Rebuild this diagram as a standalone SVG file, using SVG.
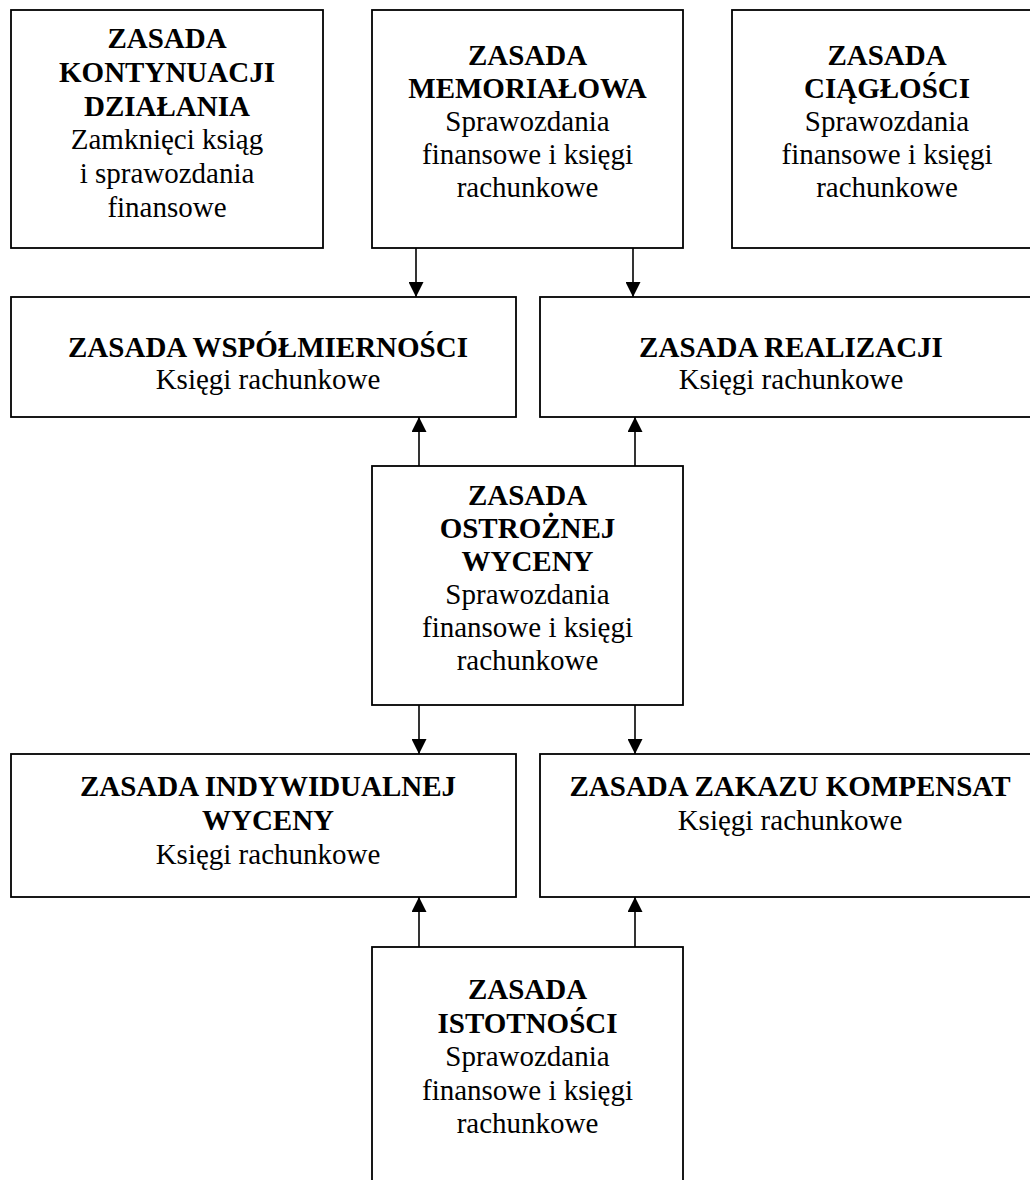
<svg xmlns="http://www.w3.org/2000/svg" width="1030" height="1180" viewBox="0 0 1030 1180">
<style>
.box{fill:#fff;stroke:#000;stroke-width:1.8}
.b{font-family:"Liberation Serif","Times New Roman",serif;font-size:29px;font-weight:bold;text-anchor:middle;fill:#000}
.r{font-family:"Liberation Serif","Times New Roman",serif;font-size:29px;text-anchor:middle;fill:#000}
.c{stroke:#000;stroke-width:1.6;fill:none}
</style>
<defs>
<marker id="ah" markerUnits="userSpaceOnUse" markerWidth="15" markerHeight="15" viewBox="0 0 15 15" refX="15" refY="7.5" orient="auto">
<path d="M0,0 L15,7.5 L0,15 z" fill="#000"/>
</marker>
</defs>
<rect width="1030" height="1180" fill="#fff"/>
<g id="kontynuacja">
<rect class="box" x="11" y="10" width="312" height="238"/>
<text class="b" x="167" y="48">ZASADA</text>
<text class="b" x="167" y="82">KONTYNUACJI</text>
<text class="b" x="167" y="116">DZIAŁANIA</text>
<text class="r" x="167" y="149">Zamknięci ksiąg</text>
<text class="r" x="167" y="183">i sprawozdania</text>
<text class="r" x="167" y="217">finansowe</text>
</g>
<g id="memorialowa">
<rect class="box" x="372" y="10" width="311" height="238"/>
<text class="b" x="527.5" y="65">ZASADA</text>
<text class="b" x="527.5" y="98">MEMORIAŁOWA</text>
<text class="r" x="527.5" y="131">Sprawozdania</text>
<text class="r" x="527.5" y="164">finansowe i księgi</text>
<text class="r" x="527.5" y="197">rachunkowe</text>
</g>
<g id="ciaglosc">
<rect class="box" x="732" y="10" width="310" height="238"/>
<text class="b" x="887" y="65">ZASADA</text>
<text class="b" x="887" y="98">CIĄGŁOŚCI</text>
<text class="r" x="887" y="131">Sprawozdania</text>
<text class="r" x="887" y="164">finansowe i księgi</text>
<text class="r" x="887" y="197">rachunkowe</text>
</g>
<g id="wspolmiernosc">
<rect class="box" x="11" y="297" width="505" height="120"/>
<text class="b" x="268" y="357">ZASADA WSPÓŁMIERNOŚCI</text>
<text class="r" x="268" y="389">Księgi rachunkowe</text>
</g>
<g id="realizacja">
<rect class="box" x="540" y="297" width="502" height="120"/>
<text class="b" x="791" y="357">ZASADA REALIZACJI</text>
<text class="r" x="791" y="389">Księgi rachunkowe</text>
</g>
<g id="ostroznosc">
<rect class="box" x="372" y="466" width="311" height="239"/>
<text class="b" x="527.5" y="505">ZASADA</text>
<text class="b" x="527.5" y="538">OSTROŻNEJ</text>
<text class="b" x="527.5" y="571">WYCENY</text>
<text class="r" x="527.5" y="604">Sprawozdania</text>
<text class="r" x="527.5" y="637">finansowe i księgi</text>
<text class="r" x="527.5" y="670">rachunkowe</text>
</g>
<g id="indywidualna">
<rect class="box" x="11" y="754" width="505" height="143"/>
<text class="b" x="268" y="796">ZASADA INDYWIDUALNEJ</text>
<text class="b" x="268" y="830">WYCENY</text>
<text class="r" x="268" y="864">Księgi rachunkowe</text>
</g>
<g id="kompensaty">
<rect class="box" x="540" y="754" width="502" height="143"/>
<text class="b" x="790" y="796">ZASADA ZAKAZU KOMPENSAT</text>
<text class="r" x="790" y="830">Księgi rachunkowe</text>
</g>
<g id="istotnosc">
<rect class="box" x="372" y="947" width="311" height="250"/>
<text class="b" x="527.5" y="999">ZASADA</text>
<text class="b" x="527.5" y="1033">ISTOTNOŚCI</text>
<text class="r" x="527.5" y="1066">Sprawozdania</text>
<text class="r" x="527.5" y="1100">finansowe i księgi</text>
<text class="r" x="527.5" y="1133">rachunkowe</text>
</g>
<g id="connectors">
<line class="c" x1="416" y1="248" x2="416" y2="297" marker-end="url(#ah)"/>
<line class="c" x1="633" y1="248" x2="633" y2="297" marker-end="url(#ah)"/>
<line class="c" x1="419" y1="466" x2="419" y2="417" marker-end="url(#ah)"/>
<line class="c" x1="635" y1="466" x2="635" y2="417" marker-end="url(#ah)"/>
<line class="c" x1="419" y1="705" x2="419" y2="754" marker-end="url(#ah)"/>
<line class="c" x1="635" y1="705" x2="635" y2="754" marker-end="url(#ah)"/>
<line class="c" x1="419" y1="947" x2="419" y2="897" marker-end="url(#ah)"/>
<line class="c" x1="635" y1="947" x2="635" y2="897" marker-end="url(#ah)"/>
</g>
</svg>
